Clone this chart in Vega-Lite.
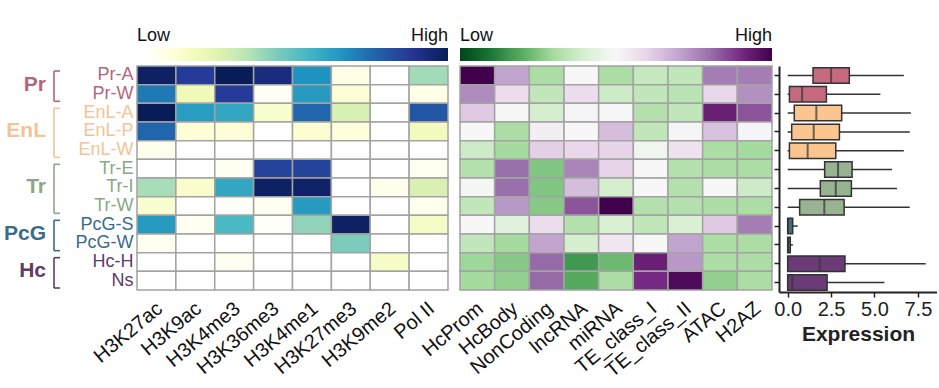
{
"$schema":"https://vega.github.io/schema/vega-lite/v6.json",
"background":"white",
"padding":{"left":2,"top":48,"right":0,"bottom":0},
"config":{"view":{"stroke":null},"font":"Liberation Sans"},
"datasets":{
"groups":[
{"group":"Pr","top":0,"bottom":2,"mid":1},
{"group":"EnL","top":2,"bottom":5,"mid":3.5},
{"group":"Tr","top":5,"bottom":8,"mid":6.5},
{"group":"PcG","top":8,"bottom":10,"mid":9},
{"group":"Hc","top":10,"bottom":12,"mid":11}],
"h1":[
{"r":"Pr-A","c":"H3K27ac","v":0.98},{"r":"Pr-A","c":"H3K9ac","v":0.87},{"r":"Pr-A","c":"H3K4me3","v":1.0},{"r":"Pr-A","c":"H3K36me3","v":0.93},{"r":"Pr-A","c":"H3K4me1","v":0.66},{"r":"Pr-A","c":"H3K27me3","v":0.08},{"r":"Pr-A","c":"H3K9me2","v":0.0},{"r":"Pr-A","c":"Pol II","v":0.39},
{"r":"Pr-W","c":"H3K27ac","v":0.72},{"r":"Pr-W","c":"H3K9ac","v":0.2},{"r":"Pr-W","c":"H3K4me3","v":0.87},{"r":"Pr-W","c":"H3K36me3","v":0.05},{"r":"Pr-W","c":"H3K4me1","v":0.64},{"r":"Pr-W","c":"H3K27me3","v":0.12},{"r":"Pr-W","c":"H3K9me2","v":0.0},{"r":"Pr-W","c":"Pol II","v":0.08},
{"r":"EnL-A","c":"H3K27ac","v":1.0},{"r":"EnL-A","c":"H3K9ac","v":0.63},{"r":"EnL-A","c":"H3K4me3","v":0.6},{"r":"EnL-A","c":"H3K36me3","v":0.15},{"r":"EnL-A","c":"H3K4me1","v":0.76},{"r":"EnL-A","c":"H3K27me3","v":0.28},{"r":"EnL-A","c":"H3K9me2","v":0.0},{"r":"EnL-A","c":"Pol II","v":0.8},
{"r":"EnL-P","c":"H3K27ac","v":0.76},{"r":"EnL-P","c":"H3K9ac","v":0.12},{"r":"EnL-P","c":"H3K4me3","v":0.12},{"r":"EnL-P","c":"H3K36me3","v":0.02},{"r":"EnL-P","c":"H3K4me1","v":0.13},{"r":"EnL-P","c":"H3K27me3","v":0.1},{"r":"EnL-P","c":"H3K9me2","v":0.02},{"r":"EnL-P","c":"Pol II","v":0.19},
{"r":"EnL-W","c":"H3K27ac","v":0.07},{"r":"EnL-W","c":"H3K9ac","v":0.02},{"r":"EnL-W","c":"H3K4me3","v":0.02},{"r":"EnL-W","c":"H3K36me3","v":0.02},{"r":"EnL-W","c":"H3K4me1","v":0.02},{"r":"EnL-W","c":"H3K27me3","v":0.02},{"r":"EnL-W","c":"H3K9me2","v":0.0},{"r":"EnL-W","c":"Pol II","v":0.02},
{"r":"Tr-E","c":"H3K27ac","v":0.02},{"r":"Tr-E","c":"H3K9ac","v":0.02},{"r":"Tr-E","c":"H3K4me3","v":0.06},{"r":"Tr-E","c":"H3K36me3","v":0.85},{"r":"Tr-E","c":"H3K4me1","v":0.85},{"r":"Tr-E","c":"H3K27me3","v":0.02},{"r":"Tr-E","c":"H3K9me2","v":0.0},{"r":"Tr-E","c":"Pol II","v":0.06},
{"r":"Tr-I","c":"H3K27ac","v":0.38},{"r":"Tr-I","c":"H3K9ac","v":0.15},{"r":"Tr-I","c":"H3K4me3","v":0.6},{"r":"Tr-I","c":"H3K36me3","v":0.98},{"r":"Tr-I","c":"H3K4me1","v":0.97},{"r":"Tr-I","c":"H3K27me3","v":0.02},{"r":"Tr-I","c":"H3K9me2","v":0.07},{"r":"Tr-I","c":"Pol II","v":0.28},
{"r":"Tr-W","c":"H3K27ac","v":0.14},{"r":"Tr-W","c":"H3K9ac","v":0.02},{"r":"Tr-W","c":"H3K4me3","v":0.04},{"r":"Tr-W","c":"H3K36me3","v":0.06},{"r":"Tr-W","c":"H3K4me1","v":0.64},{"r":"Tr-W","c":"H3K27me3","v":0.02},{"r":"Tr-W","c":"H3K9me2","v":0.02},{"r":"Tr-W","c":"Pol II","v":0.07},
{"r":"PcG-S","c":"H3K27ac","v":0.64},{"r":"PcG-S","c":"H3K9ac","v":0.06},{"r":"PcG-S","c":"H3K4me3","v":0.54},{"r":"PcG-S","c":"H3K36me3","v":0.04},{"r":"PcG-S","c":"H3K4me1","v":0.42},{"r":"PcG-S","c":"H3K27me3","v":0.98},{"r":"PcG-S","c":"H3K9me2","v":0.02},{"r":"PcG-S","c":"Pol II","v":0.17},
{"r":"PcG-W","c":"H3K27ac","v":0.06},{"r":"PcG-W","c":"H3K9ac","v":0.0},{"r":"PcG-W","c":"H3K4me3","v":0.02},{"r":"PcG-W","c":"H3K36me3","v":0.0},{"r":"PcG-W","c":"H3K4me1","v":0.0},{"r":"PcG-W","c":"H3K27me3","v":0.45},{"r":"PcG-W","c":"H3K9me2","v":0.0},{"r":"PcG-W","c":"Pol II","v":0.02},
{"r":"Hc-H","c":"H3K27ac","v":0.02},{"r":"Hc-H","c":"H3K9ac","v":0.0},{"r":"Hc-H","c":"H3K4me3","v":0.06},{"r":"Hc-H","c":"H3K36me3","v":0.0},{"r":"Hc-H","c":"H3K4me1","v":0.0},{"r":"Hc-H","c":"H3K27me3","v":0.02},{"r":"Hc-H","c":"H3K9me2","v":0.16},{"r":"Hc-H","c":"Pol II","v":0.02},
{"r":"Ns","c":"H3K27ac","v":0.0},{"r":"Ns","c":"H3K9ac","v":0.0},{"r":"Ns","c":"H3K4me3","v":0.0},{"r":"Ns","c":"H3K36me3","v":0.0},{"r":"Ns","c":"H3K4me1","v":0.0},{"r":"Ns","c":"H3K27me3","v":0.0},{"r":"Ns","c":"H3K9me2","v":0.0},{"r":"Ns","c":"Pol II","v":0.0}],
"h2":[
{"r":"Pr-A","c":"HcProm","v":1.0},{"r":"Pr-A","c":"HcBody","v":0.4},{"r":"Pr-A","c":"NonCoding","v":-0.38},{"r":"Pr-A","c":"lncRNA","v":0.0},{"r":"Pr-A","c":"miRNA","v":-0.38},{"r":"Pr-A","c":"TE_class_I","v":-0.28},{"r":"Pr-A","c":"TE_class_II","v":-0.3},{"r":"Pr-A","c":"ATAC","v":0.55},{"r":"Pr-A","c":"H2AZ","v":0.55},
{"r":"Pr-W","c":"HcProm","v":0.5},{"r":"Pr-W","c":"HcBody","v":0.15},{"r":"Pr-W","c":"NonCoding","v":-0.3},{"r":"Pr-W","c":"lncRNA","v":0.15},{"r":"Pr-W","c":"miRNA","v":-0.25},{"r":"Pr-W","c":"TE_class_I","v":-0.3},{"r":"Pr-W","c":"TE_class_II","v":-0.32},{"r":"Pr-W","c":"ATAC","v":0.18},{"r":"Pr-W","c":"H2AZ","v":0.48},
{"r":"EnL-A","c":"HcProm","v":0.25},{"r":"EnL-A","c":"HcBody","v":0.0},{"r":"EnL-A","c":"NonCoding","v":-0.22},{"r":"EnL-A","c":"lncRNA","v":0.02},{"r":"EnL-A","c":"miRNA","v":0.0},{"r":"EnL-A","c":"TE_class_I","v":-0.35},{"r":"EnL-A","c":"TE_class_II","v":-0.3},{"r":"EnL-A","c":"ATAC","v":0.85},{"r":"EnL-A","c":"H2AZ","v":0.68},
{"r":"EnL-P","c":"HcProm","v":0.0},{"r":"EnL-P","c":"HcBody","v":-0.38},{"r":"EnL-P","c":"NonCoding","v":0.05},{"r":"EnL-P","c":"lncRNA","v":0.0},{"r":"EnL-P","c":"miRNA","v":0.3},{"r":"EnL-P","c":"TE_class_I","v":-0.3},{"r":"EnL-P","c":"TE_class_II","v":0.02},{"r":"EnL-P","c":"ATAC","v":0.28},{"r":"EnL-P","c":"H2AZ","v":0.02},
{"r":"EnL-W","c":"HcProm","v":-0.25},{"r":"EnL-W","c":"HcBody","v":-0.4},{"r":"EnL-W","c":"NonCoding","v":0.22},{"r":"EnL-W","c":"lncRNA","v":0.18},{"r":"EnL-W","c":"miRNA","v":0.2},{"r":"EnL-W","c":"TE_class_I","v":-0.05},{"r":"EnL-W","c":"TE_class_II","v":0.12},{"r":"EnL-W","c":"ATAC","v":-0.38},{"r":"EnL-W","c":"H2AZ","v":-0.4},
{"r":"Tr-E","c":"HcProm","v":-0.35},{"r":"Tr-E","c":"HcBody","v":0.6},{"r":"Tr-E","c":"NonCoding","v":-0.5},{"r":"Tr-E","c":"lncRNA","v":0.52},{"r":"Tr-E","c":"miRNA","v":0.2},{"r":"Tr-E","c":"TE_class_I","v":0.0},{"r":"Tr-E","c":"TE_class_II","v":-0.35},{"r":"Tr-E","c":"ATAC","v":-0.38},{"r":"Tr-E","c":"H2AZ","v":-0.38},
{"r":"Tr-I","c":"HcProm","v":-0.02},{"r":"Tr-I","c":"HcBody","v":0.6},{"r":"Tr-I","c":"NonCoding","v":-0.5},{"r":"Tr-I","c":"lncRNA","v":0.3},{"r":"Tr-I","c":"miRNA","v":-0.22},{"r":"Tr-I","c":"TE_class_I","v":0.0},{"r":"Tr-I","c":"TE_class_II","v":-0.35},{"r":"Tr-I","c":"ATAC","v":0.0},{"r":"Tr-I","c":"H2AZ","v":-0.25},
{"r":"Tr-W","c":"HcProm","v":-0.3},{"r":"Tr-W","c":"HcBody","v":0.45},{"r":"Tr-W","c":"NonCoding","v":-0.48},{"r":"Tr-W","c":"lncRNA","v":0.68},{"r":"Tr-W","c":"miRNA","v":1.0},{"r":"Tr-W","c":"TE_class_I","v":-0.35},{"r":"Tr-W","c":"TE_class_II","v":-0.35},{"r":"Tr-W","c":"ATAC","v":-0.38},{"r":"Tr-W","c":"H2AZ","v":-0.38},
{"r":"PcG-S","c":"HcProm","v":0.0},{"r":"PcG-S","c":"HcBody","v":-0.15},{"r":"PcG-S","c":"NonCoding","v":0.15},{"r":"PcG-S","c":"lncRNA","v":-0.35},{"r":"PcG-S","c":"miRNA","v":-0.2},{"r":"PcG-S","c":"TE_class_I","v":-0.3},{"r":"PcG-S","c":"TE_class_II","v":-0.2},{"r":"PcG-S","c":"ATAC","v":0.25},{"r":"PcG-S","c":"H2AZ","v":0.55},
{"r":"PcG-W","c":"HcProm","v":-0.3},{"r":"PcG-W","c":"HcBody","v":-0.4},{"r":"PcG-W","c":"NonCoding","v":0.4},{"r":"PcG-W","c":"lncRNA","v":-0.22},{"r":"PcG-W","c":"miRNA","v":0.1},{"r":"PcG-W","c":"TE_class_I","v":0.0},{"r":"PcG-W","c":"TE_class_II","v":0.4},{"r":"PcG-W","c":"ATAC","v":-0.38},{"r":"PcG-W","c":"H2AZ","v":-0.38},
{"r":"Hc-H","c":"HcProm","v":-0.42},{"r":"Hc-H","c":"HcBody","v":-0.48},{"r":"Hc-H","c":"NonCoding","v":0.62},{"r":"Hc-H","c":"lncRNA","v":-0.68},{"r":"Hc-H","c":"miRNA","v":-0.55},{"r":"Hc-H","c":"TE_class_I","v":0.85},{"r":"Hc-H","c":"TE_class_II","v":0.45},{"r":"Hc-H","c":"ATAC","v":-0.38},{"r":"Hc-H","c":"H2AZ","v":-0.38},
{"r":"Ns","c":"HcProm","v":-0.4},{"r":"Ns","c":"HcBody","v":-0.45},{"r":"Ns","c":"NonCoding","v":0.62},{"r":"Ns","c":"lncRNA","v":-0.62},{"r":"Ns","c":"miRNA","v":-0.38},{"r":"Ns","c":"TE_class_I","v":0.8},{"r":"Ns","c":"TE_class_II","v":0.95},{"r":"Ns","c":"ATAC","v":-0.45},{"r":"Ns","c":"H2AZ","v":-0.38}],
"box":[
{"r":"Pr-A","g":"Pr","lo":0,"q1":1.46,"med":2.5,"q3":3.55,"hi":6.69},
{"r":"Pr-W","g":"Pr","lo":0,"q1":0.1,"med":0.83,"q3":2.23,"hi":5.34},
{"r":"EnL-A","g":"EnL","lo":0,"q1":0.38,"med":1.65,"q3":3.11,"hi":7.1},
{"r":"EnL-P","g":"EnL","lo":0,"q1":0.23,"med":1.5,"q3":2.98,"hi":7.03},
{"r":"EnL-W","g":"EnL","lo":0,"q1":0.1,"med":1.15,"q3":2.77,"hi":6.69},
{"r":"Tr-E","g":"Tr","lo":0,"q1":2.13,"med":2.9,"q3":3.71,"hi":6.01},
{"r":"Tr-I","g":"Tr","lo":0,"q1":1.88,"med":2.77,"q3":3.67,"hi":6.3},
{"r":"Tr-W","g":"Tr","lo":0,"q1":0.69,"med":2.11,"q3":3.25,"hi":7.03},
{"r":"PcG-S","g":"PcG","lo":0,"q1":0,"med":0.02,"q3":0.29,"hi":0.58},
{"r":"PcG-W","g":"PcG","lo":0,"q1":0,"med":0.02,"q3":0.15,"hi":0.3},
{"r":"Hc-H","g":"Hc","lo":0,"q1":0,"med":1.84,"q3":3.3,"hi":7.95},
{"r":"Ns","g":"Hc","lo":0,"q1":0,"med":0.27,"q3":2.27,"hi":5.57}]
},
"bounds":"flush",
"spacing":7,
"hconcat":[
{"width":128,"height":224,"data":{"name":"groups"},
"encoding":{"color":{"field":"group","type":"nominal","scale":{"domain":["Pr","EnL","Tr","PcG","Hc"],"range":["#b5657d","#f2c497","#8aa887","#3a6c8a","#5e3c6a"]},"legend":null}},
"layer":[
{"mark":{"type":"rule","strokeWidth":1.6,"yOffset":5,"y2Offset":-2},
"encoding":{"x":{"datum":52,"type":"quantitative","scale":{"domain":[0,128],"nice":false,"zero":false},"axis":null},
"y":{"field":"top","type":"quantitative","scale":{"domain":[0,12],"reverse":true,"nice":false,"zero":false},"axis":null},
"y2":{"field":"bottom"}}},
{"mark":{"type":"rule","strokeWidth":1.6,"yOffset":5},
"encoding":{"x":{"datum":52,"type":"quantitative"},"x2":{"datum":58},"y":{"field":"top","type":"quantitative"}}},
{"mark":{"type":"rule","strokeWidth":1.6,"yOffset":-2},
"encoding":{"x":{"datum":52,"type":"quantitative"},"x2":{"datum":58},"y":{"field":"bottom","type":"quantitative"}}},
{"mark":{"type":"text","align":"right","baseline":"middle","fontSize":21,"fontWeight":"bold"},
"encoding":{"x":{"datum":44,"type":"quantitative"},"y":{"field":"mid","type":"quantitative"},"text":{"field":"group"}}}
]},
{"width":316,"height":224,"data":{"name":"h1"},
"mark":{"type":"rect","stroke":"#a3a3a3","strokeWidth":1.5},
"encoding":{
"x":{"field":"c","type":"nominal","sort":["H3K27ac","H3K9ac","H3K4me3","H3K36me3","H3K4me1","H3K27me3","H3K9me2","Pol II"],"scale":{"paddingInner":0,"paddingOuter":0,"range":[0,311]},
"axis":{"title":null,"labelAngle":-40,"labelAlign":"right","labelBaseline":"top","labelFontSize":20,"labelColor":"#111","ticks":false,"domain":false,"labelPadding":8,"labelOffset":-3}},
"y":{"field":"r","type":"nominal","sort":["Pr-A","Pr-W","EnL-A","EnL-P","EnL-W","Tr-E","Tr-I","Tr-W","PcG-S","PcG-W","Hc-H","Ns"],"scale":{"paddingInner":0,"paddingOuter":0},
"axis":{"title":null,"ticks":false,"domain":false,"labelFontSize":18,"labelPadding":4,
"labelColor":{"condition":[{"test":"indexof(datum.value,'Pr')===0","value":"#b5657d"},{"test":"indexof(datum.value,'EnL')===0","value":"#f2c497"},{"test":"indexof(datum.value,'Tr')===0","value":"#8aa887"},{"test":"indexof(datum.value,'PcG')===0","value":"#3a6c8a"}],"value":"#5e3c6a"}}},
"color":{"field":"v","type":"quantitative","scale":{"type":"linear","interpolate":"rgb","domain":[0,0.03,0.111,0.222,0.333,0.444,0.556,0.667,0.778,0.889,1],"range":["#ffffff","#ffffff","#ffffd9","#edf8b1","#c7e9b4","#7fcdbb","#41b6c4","#1d91c0","#225ea8","#253494","#081d58"]},
"legend":{"orient":"top","direction":"horizontal","title":null,"gradientLength":311,"gradientThickness":13,"gradientStrokeWidth":0,"values":[0,1],"labelExpr":"datum.value < 0.5 ? 'Low' : 'High'","labelFontSize":18,"labelColor":"#111","labelOffset":-34,"offset":5}}
}},
{"width":312,"height":224,"data":{"name":"h2"},
"mark":{"type":"rect","stroke":"#a3a3a3","strokeWidth":1.5},
"encoding":{
"x":{"field":"c","type":"nominal","sort":["HcProm","HcBody","NonCoding","lncRNA","miRNA","TE_class_I","TE_class_II","ATAC","H2AZ"],"scale":{"paddingInner":0,"paddingOuter":0},
"axis":{"title":null,"labelAngle":-40,"labelAlign":"right","labelBaseline":"top","labelFontSize":20,"labelColor":"#111","ticks":false,"domain":false,"labelPadding":8,"labelOffset":-3}},
"y":{"field":"r","type":"nominal","sort":["Pr-A","Pr-W","EnL-A","EnL-P","EnL-W","Tr-E","Tr-I","Tr-W","PcG-S","PcG-W","Hc-H","Ns"],"scale":{"paddingInner":0,"paddingOuter":0},"axis":null},
"color":{"field":"v","type":"quantitative","scale":{"type":"linear","interpolate":"rgb","domain":[-1,-0.8,-0.6,-0.4,-0.2,0,0.2,0.4,0.6,0.8,1],"range":["#00441b","#1b7837","#5aae61","#a6dba0","#d9f0d3","#f7f7f7","#e7d4e8","#c2a5cf","#9970ab","#762a83","#40004b"]},
"legend":{"orient":"top","direction":"horizontal","title":null,"gradientLength":312,"gradientThickness":13,"gradientStrokeWidth":0,"values":[-1,1],"labelExpr":"datum.value < 0 ? 'Low' : 'High'","labelFontSize":18,"labelColor":"#111","labelOffset":-34,"offset":5}}
}},
{"width":158,"height":226,"data":{"name":"box"},
"encoding":{
"y":{"field":"r","type":"nominal","sort":["Pr-A","Pr-W","EnL-A","EnL-P","EnL-W","Tr-E","Tr-I","Tr-W","PcG-S","PcG-W","Hc-H","Ns"],"scale":{"paddingInner":0,"paddingOuter":0},
"axis":{"title":null,"labels":false,"ticks":true,"tickSize":5,"tickColor":"#222","tickWidth":1.5,"domainColor":"#222","domainWidth":2}}},
"layer":[
{"mark":{"type":"rule","color":"#333","strokeWidth":1.5},
"encoding":{"x":{"field":"lo","type":"quantitative","scale":{"domain":[-0.5,8.6],"nice":false,"zero":false},
"axis":{"title":"Expression","values":[0,2.5,5,7.5],"format":".1f","labelFontSize":20,"labelColor":"#222","titleFontSize":21,"titleFontWeight":"bold","titleColor":"#222","domainColor":"#222","domainWidth":2,"tickColor":"#222","tickWidth":1.5,"tickSize":5,"grid":false,"labelPadding":2,"titlePadding":4}},
"x2":{"field":"hi"}}},
{"mark":{"type":"bar","stroke":"#333","strokeWidth":1.5,"height":{"band":0.82}},
"encoding":{"x":{"field":"q1","type":"quantitative"},"x2":{"field":"q3"},
"color":{"field":"g","type":"nominal","scale":{"domain":["Pr","EnL","Tr","PcG","Hc"],"range":["#c66a80","#fbc58f","#97b392","#426b80","#6b3b78"]},"legend":null}}},
{"mark":{"type":"tick","orient":"vertical","color":"#333","thickness":2,"size":15},
"encoding":{"x":{"field":"med","type":"quantitative"}}}
]}
]
}
